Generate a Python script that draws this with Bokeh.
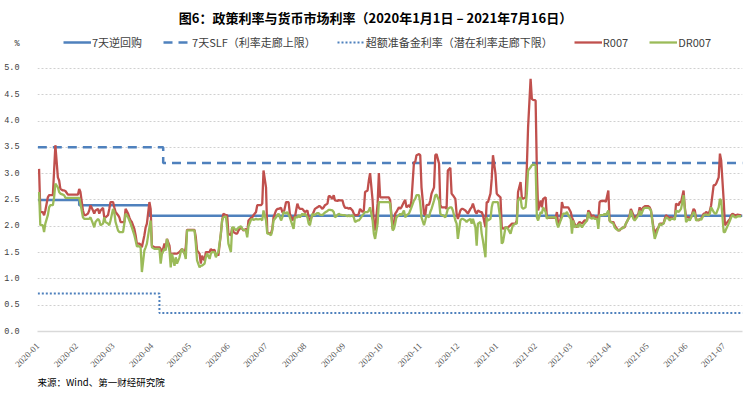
import math
import pandas as pd
from bokeh.plotting import figure
from bokeh.models import (ColumnDataSource, Range1d, FixedTicker, MonthsTicker,
                          DatetimeTickFormatter, PrintfTickFormatter, Legend,
                          LegendItem, Label, Title)
from bokeh.embed import file_html
from bokeh.resources import INLINE

# ---------------- data ----------------
# observation day = days since 2020-01-01
obs_day = [
    1, 2, 4, 5, 6, 8, 9, 10, 12, 13, 14, 16, 17, 18, 20, 21, 22, 24, 25, 26,
    28, 29, 30, 32, 33, 34, 36, 37, 38, 40, 41, 42, 44, 45, 46, 48, 49, 50, 52, 53,
    54, 56, 57, 58, 60, 61, 62, 64, 65, 66, 68, 69, 70, 72, 73, 74, 75, 77, 78, 79,
    81, 82, 83, 85, 86, 87, 89, 90, 91, 93, 94, 95, 97, 98, 99, 101, 102, 103, 105, 106,
    107, 109, 110, 111, 113, 114, 115, 117, 118, 119, 121, 122, 123, 125, 126, 127, 129, 130, 131, 133,
    134, 135, 137, 138, 139, 141,
    142, 143, 144, 146, 147, 148, 150, 151, 152, 154, 155, 156, 158, 159, 160, 162, 163, 164, 166, 167,
    168, 170, 171, 172, 174, 175, 176, 178, 179, 180, 182, 183, 184, 186, 187, 188, 190, 191, 192, 194,
    195, 196, 198, 199, 200, 201, 203, 204, 205, 207, 208, 209, 211, 212, 213, 215, 216, 217, 219, 220,
    221, 223, 224, 225, 227, 228, 229, 231, 232, 233, 235, 236, 237, 239, 240, 241, 243, 244, 245, 247,
    248, 249, 251, 252, 253, 255, 256, 257, 259, 260, 261, 263, 264, 265, 267, 268, 269, 271, 272, 273,
    275, 276, 277, 279, 280, 281, 283,
    284, 285, 286, 288, 289, 290, 292, 293, 294, 296, 297, 298, 300, 301, 302, 304, 305, 306, 308, 309,
    310, 312, 313, 314, 316, 317, 318, 320, 321, 322, 323, 325, 326, 327, 329, 330, 331, 333, 334, 335,
    337, 338, 339, 341, 342, 343, 345, 346, 347, 349, 350, 351, 353, 354, 355, 357, 358, 359, 361, 362,
    363, 365, 366, 367, 369, 370, 371, 373, 374, 375, 377, 378, 379, 381, 382, 383, 385, 386, 387, 389,
    390, 391, 393, 394, 395, 397, 398, 399, 401, 402, 403, 405, 406, 407, 409, 410, 411, 413, 414, 415,
    417, 418, 419, 421, 422, 423, 425,
    426, 427, 428, 430, 431, 432, 434, 435, 436, 438, 439, 440, 442, 443, 444, 446, 447, 448, 449, 451,
    452, 453, 455, 456, 457, 459, 460, 461, 463, 464, 465, 467, 468, 469, 471, 472, 473, 475, 476, 477,
    479, 480, 481, 483, 484, 485, 487, 488, 489, 491, 492, 493, 495, 496, 497, 499, 500, 501, 503, 504,
    505, 507, 508, 509, 511, 512, 513, 515, 516, 517, 519, 520, 521, 523, 524, 525, 527, 528, 529, 531,
    532, 533, 535, 536, 537, 539, 540, 541, 543, 544, 545, 547, 548, 549, 551, 552, 553, 554, 556, 557,
    558, 560, 561,
]

r007 = [
    3.09, 2.27, 2.27, 2.21, 2.30, 2.55, 2.59, 2.59, 2.59, 3.06, 3.54, 2.93, 2.87, 2.71, 2.68, 2.68, 2.67, 2.60, 2.60, 2.60,
    2.60, 2.60, 2.60, 2.60, 2.71, 2.65, 2.30, 2.21, 2.21, 2.24, 2.30, 2.40, 2.30, 2.24, 2.30, 2.33, 2.24, 2.30, 2.35, 2.17,
    2.17, 2.21, 2.33, 2.46, 2.46, 2.36, 2.27, 2.21, 2.17, 2.08, 2.08, 2.08, 2.33, 2.24, 2.17, 2.11, 2.08, 1.95, 1.83, 1.67,
    1.67, 1.65, 1.60, 1.83, 1.98, 2.05, 2.46, 2.33, 1.63, 1.60, 1.60, 1.60, 1.60, 1.57, 1.48, 1.67, 1.57, 1.76, 1.63, 1.41,
    1.48, 1.48, 1.48, 1.48, 1.51, 1.54, 1.57, 1.48, 1.60, 1.93, 1.93, 1.93, 1.93, 1.93, 1.79, 1.54, 1.48, 1.29, 1.44, 1.35,
    1.51, 1.51, 1.51, 1.57, 1.54, 1.55,
    1.44, 1.48, 1.44, 1.86, 2.11, 2.24, 2.21, 2.21, 1.86, 1.83, 1.98, 1.89, 1.86, 1.86, 1.92, 1.98, 1.95, 1.92, 1.95, 1.86,
    2.11, 2.16, 2.17, 2.21, 2.27, 2.40, 2.40, 2.40, 2.43, 3.06, 2.74, 1.89, 1.87, 1.86, 1.95, 2.17, 2.30, 2.33, 2.33, 2.35,
    2.27, 2.24, 2.46, 2.46, 2.46, 2.24, 2.11, 2.17, 2.17, 2.43, 2.36, 2.33, 2.33, 2.30, 2.27, 2.30, 2.17, 2.11, 2.21, 2.27,
    2.33, 2.36, 2.38, 2.38, 2.33, 2.36, 2.40, 2.43, 2.57, 2.57, 2.52, 2.59, 2.49, 2.48, 2.50, 2.49, 2.49, 2.40, 2.35, 2.35,
    2.33, 2.35, 2.30, 2.24, 2.21, 2.21, 2.24, 2.33, 2.27, 2.30, 2.65, 2.68, 2.87, 3.01, 2.49, 2.05, 1.92, 2.43, 3.01, 2.55,
    2.55, 2.55, 2.55, 2.55, 2.55, 2.49, 1.95,
    2.05, 2.24, 2.27, 2.36, 2.33, 2.36, 2.46, 2.50, 2.36, 2.40, 2.36, 2.49, 3.22, 3.22, 3.35, 3.37, 3.35, 2.74, 2.24, 2.21,
    2.40, 2.41, 2.49, 2.62, 2.74, 3.35, 3.37, 3.19, 2.40, 2.36, 2.36, 2.36, 2.33, 3.06, 3.11, 2.62, 2.59, 2.52, 2.24, 2.14,
    2.30, 2.33, 2.33, 2.30, 2.27, 2.24, 2.33, 2.36, 2.43, 2.27, 2.24, 2.30, 2.27, 2.27, 2.21, 1.98, 2.46, 2.46, 2.62, 2.90,
    3.35, 3.00, 2.62, 2.59, 2.55, 1.98, 1.95, 1.98, 1.98, 1.98, 2.02, 2.05, 2.05, 2.05, 2.11, 2.65, 2.84, 2.55, 2.52, 2.55,
    3.12, 3.88, 4.80, 4.42, 4.40, 4.39, 3.06, 2.30, 2.49, 2.36, 2.52, 2.55, 2.17, 2.16, 2.16, 2.16, 2.16, 2.16, 2.27, 2.02,
    2.14, 2.46, 2.36, 2.36, 2.36, 2.36, 2.27,
    2.17, 2.11, 2.05, 1.98, 2.05, 2.08, 2.05, 2.08, 2.11, 2.11, 2.30, 2.27, 2.17, 2.21, 2.17, 2.17, 2.11, 2.46, 2.48, 2.48,
    2.49, 2.46, 2.68, 2.11, 2.08, 2.08, 2.02, 1.98, 1.92, 1.92, 1.95, 1.98, 1.98, 2.05, 2.14, 2.21, 2.33, 2.21, 2.14, 2.17,
    2.24, 2.36, 2.30, 2.36, 2.38, 2.38, 2.38, 2.36, 2.30, 1.98, 1.83, 1.92, 1.98, 2.05, 2.05, 2.05, 2.14, 2.21, 2.17, 2.14,
    2.17, 2.14, 2.14, 2.43, 2.40, 2.46, 2.46, 2.68, 2.36, 2.17, 2.17, 2.14, 2.17, 2.33, 2.30, 2.14, 2.11, 2.14, 2.14, 2.24,
    2.24, 2.27, 2.24, 2.30, 2.40, 2.78, 2.78, 2.81, 2.93, 3.38, 3.25, 2.49, 2.02, 2.05, 2.11, 2.14, 2.21, 2.24, 2.21, 2.21,
    2.22, 2.21, 2.21,
]

dr007 = [
    2.65, 2.02, 2.02, 1.89, 2.05, 2.21, 2.36, 2.40, 2.40, 2.55, 2.81, 2.74, 2.65, 2.62, 2.60, 2.59, 2.54, 2.54, 2.54, 2.54,
    2.54, 2.54, 2.54, 2.54, 2.54, 2.43, 2.17, 2.14, 2.14, 2.14, 2.14, 2.17, 2.05, 1.98, 2.08, 2.14, 2.11, 2.02, 2.05, 2.17,
    2.08, 2.05, 2.02, 2.11, 2.33, 2.27, 2.08, 1.92, 1.89, 1.89, 1.89, 2.05, 2.24, 2.17, 2.11, 2.05, 1.98, 1.83, 1.73, 1.62,
    1.62, 1.60, 1.13, 1.54, 1.60, 1.67, 1.98, 2.11, 1.60, 1.57, 1.57, 1.57, 1.57, 1.29, 1.48, 1.57, 1.54, 1.76, 1.54, 1.22,
    1.48, 1.25, 1.41, 1.29, 1.41, 1.51, 1.57, 1.48, 1.38, 1.92, 1.92, 1.92, 1.92, 1.92, 1.67, 1.35, 1.22, 1.25, 1.25, 1.29,
    1.41, 1.48, 1.38, 1.48, 1.51, 1.51,
    1.41, 1.48, 1.51, 1.86, 2.11, 2.17, 2.19, 1.98, 1.67, 1.51, 1.98, 1.98, 1.92, 1.95, 1.97, 2.00, 1.95, 1.93, 1.92, 1.79,
    2.00, 2.12, 2.14, 2.12, 2.14, 2.13, 2.13, 2.14, 2.11, 2.30, 2.11, 1.86, 1.86, 1.83, 1.92, 2.11, 2.17, 2.21, 2.24, 2.11,
    2.17, 2.27, 2.24, 2.27, 2.22, 2.17, 2.02, 1.95, 2.17, 2.17, 2.21, 2.17, 2.24, 2.21, 2.24, 2.17, 2.05, 2.02, 2.24, 2.21,
    2.22, 2.25, 2.25, 2.22, 2.21, 2.24, 2.26, 2.29, 2.31, 2.31, 2.30, 2.27, 2.17, 2.21, 2.24, 2.22, 2.21, 2.21, 2.21, 2.19,
    2.21, 2.19, 2.21, 2.17, 2.08, 2.11, 2.11, 2.14, 2.21, 2.24, 2.27, 2.27, 2.30, 2.36, 2.11, 1.86, 1.76, 2.05, 2.46, 2.46,
    2.46, 2.46, 2.46, 2.46, 2.46, 2.43, 1.92,
    1.95, 2.05, 2.17, 2.21, 2.24, 2.21, 2.30, 2.17, 2.21, 2.24, 2.30, 2.36, 2.49, 2.52, 2.59, 2.59, 2.43, 2.17, 2.02, 2.11,
    2.21, 2.17, 2.27, 2.33, 2.49, 2.59, 2.60, 2.49, 2.24, 2.21, 2.21, 2.17, 2.24, 2.33, 2.36, 2.36, 2.30, 2.11, 2.05, 1.76,
    2.11, 2.14, 2.14, 2.11, 2.08, 2.11, 2.14, 2.05, 2.14, 1.98, 1.63, 2.05, 2.08, 1.86, 1.73, 1.41, 2.17, 2.11, 2.14, 2.36,
    2.46, 2.46, 2.46, 2.46, 2.11, 1.67, 1.70, 1.98, 1.98, 1.95, 1.86, 1.95, 2.02, 2.05, 2.05, 2.49, 2.55, 2.36, 2.33, 2.36,
    2.62, 3.06, 3.12, 3.16, 3.17, 3.16, 2.17, 2.11, 2.27, 2.24, 2.36, 2.27, 2.14, 2.17, 2.17, 2.17, 2.17, 2.17, 2.05, 1.98,
    2.11, 2.17, 2.24, 2.24, 2.27, 2.21, 2.14,
    1.86, 2.11, 1.98, 2.02, 1.98, 2.05, 1.98, 2.02, 2.05, 2.11, 2.27, 2.17, 2.14, 2.17, 2.14, 2.14, 1.95, 2.21, 2.21, 2.21,
    2.24, 2.21, 2.30, 2.11, 2.08, 2.05, 1.98, 1.95, 1.92, 1.93, 1.95, 1.97, 2.00, 2.05, 2.14, 2.17, 2.30, 2.14, 2.11, 2.14,
    2.21, 2.30, 2.21, 2.33, 2.35, 2.35, 2.35, 2.33, 2.30, 1.92, 1.76, 1.83, 1.98, 2.05, 2.02, 2.05, 2.11, 2.17, 2.14, 2.11,
    2.14, 2.14, 2.12, 2.30, 2.27, 2.30, 2.33, 2.59, 2.33, 2.08, 2.14, 2.11, 2.17, 2.27, 2.24, 2.11, 2.12, 2.14, 2.12, 2.21,
    2.22, 2.22, 2.21, 2.24, 2.36, 2.27, 2.24, 2.24, 2.36, 2.52, 2.49, 1.89, 1.89, 1.95, 2.05, 2.11, 2.17, 2.21, 2.17, 2.17,
    2.19, 2.19, 2.19,
]

# policy rates (step changes)
repo_dates = ["2020-01-01", "2020-02-03", "2020-03-30", "2021-07-16"]
repo_rate = [2.5, 2.4, 2.2, 2.2]
slf_dates = ["2020-01-01", "2020-04-10", "2021-07-16"]
slf_rate = [3.5, 3.2, 3.2]
ioer_dates = ["2020-01-01", "2020-04-07", "2021-07-16"]
ioer_rate = [0.72, 0.35, 0.35]

y_ticks = [0.0, 0.5, 1.0, 1.5, 2.0, 2.5, 3.0, 3.5, 4.0, 4.5, 5.0]
unit_tick = 5.46          # where the "%" unit sits, above the 5.0 tick
y_top = 6.29              # headroom above 5.0 that holds legend and title

title_text = "图6：政策利率与货币市场利率（2020年1月1日 – 2021年7月16日）"
source_text = "来源：Wind、第一财经研究院"
legend_labels = ["7天逆回购", "7天SLF（利率走廊上限）", "超额准备金利率（潜在利率走廊下限）", "R007", "DR007"]

# ---------------- build ----------------
assert len(obs_day) == len(r007) == len(dr007)
base = pd.Timestamp("2020-01-01")
dates = base + pd.to_timedelta(obs_day, unit="D")
mkt = ColumnDataSource(dict(date=dates, r007=r007, dr007=dr007))

CJK = "Noto Sans CJK SC"
BLUE = "#4F81BD"
RED = "#C0504D"
GREEN = "#9BBB59"

x_start = pd.Timestamp("2019-12-31 18:00")
x_end = pd.Timestamp("2021-07-16")

p = figure(width=751, height=393, x_axis_type="datetime", output_backend="svg",
           toolbar_location=None,
           x_range=Range1d(x_start, x_end),
           y_range=Range1d(0, y_top),
           min_border_left=37, min_border_right=9, min_border_top=0, min_border_bottom=62)
p.outline_line_color = None
p.background_fill_color = "white"
p.border_fill_color = "white"

r_repo = p.step(pd.to_datetime(repo_dates), repo_rate, mode="after", line_color=BLUE, line_width=2.5)
r_slf = p.step(pd.to_datetime(slf_dates), slf_rate, mode="after", line_color=BLUE, line_width=2.5,
               line_dash="9 6")
r_ioer = p.step(pd.to_datetime(ioer_dates), ioer_rate, mode="after", line_color=BLUE, line_width=2,
                line_dash="2 2")
r_r = p.line("date", "r007", source=mkt, line_color=RED, line_width=2.3)
r_dr = p.line("date", "dr007", source=mkt, line_color=GREEN, line_width=2.3)

# y axis (the unit "%" is shown as a label above the top tick)
p.yaxis.ticker = FixedTicker(ticks=y_ticks + [unit_tick])
p.yaxis.formatter = PrintfTickFormatter(format="%.1f")
p.yaxis.major_label_overrides = {unit_tick: "%"}
p.yaxis.axis_line_color = None
p.yaxis.major_tick_line_color = None
p.yaxis.minor_tick_line_color = None
p.yaxis.major_label_standoff = 12
p.yaxis.major_label_text_font = "Liberation Mono"
p.yaxis.major_label_text_font_size = "8.5px"
p.yaxis.major_label_text_color = "#404040"

p.xaxis.ticker = MonthsTicker(months=list(range(1, 13)))
p.xaxis.formatter = DatetimeTickFormatter(months="%Y-%m", days="%Y-%m", years="%Y-%m")
p.xaxis.major_label_orientation = math.pi / 4
p.xaxis.axis_line_color = "#D9D9D9"
p.xaxis.axis_line_width = 1.5
p.xaxis.major_tick_line_color = None
p.xaxis.minor_tick_line_color = None
p.xaxis.major_label_text_font = "Liberation Serif"
p.xaxis.major_label_text_font_size = "9px"
p.xaxis.major_label_text_color = "#595959"
p.xaxis.major_label_standoff = 7

p.xgrid.grid_line_color = None
p.ygrid.ticker = FixedTicker(ticks=y_ticks)
p.ygrid.bounds = (0, 5)
p.ygrid.grid_line_color = "#D0D0D0"
p.ygrid.grid_line_dash = "2 2"
p.ygrid.grid_line_width = 1

legend = Legend(items=[LegendItem(label=legend_labels[0], renderers=[r_repo]),
                       LegendItem(label=legend_labels[1], renderers=[r_slf]),
                       LegendItem(label=legend_labels[2], renderers=[r_ioer]),
                       LegendItem(label=legend_labels[3], renderers=[r_r]),
                       LegendItem(label=legend_labels[4], renderers=[r_dr])],
                orientation="horizontal", location=(26, 281),
                glyph_width=28, glyph_height=12, label_standoff=1, spacing=21,
                padding=0, margin=0, background_fill_alpha=0, border_line_alpha=0,
                label_text_font=CJK, label_text_font_size="11px",
                label_text_color="#404040", label_height=12)
p.add_layout(legend)

p.add_layout(Label(x=338, y=314, x_units="screen", y_units="screen", text=title_text,
                   text_align="center", text_baseline="middle", text_font=CJK,
                   text_font_style="bold", text_font_size="13px", text_color="#000000"))

p.add_layout(Title(text=source_text, align="left", text_font=CJK, text_font_style="normal",
                   text_font_size="9.5px", text_color="#000000", standoff=0), "below")

open("out.html", "w").write(file_html(p, INLINE))
